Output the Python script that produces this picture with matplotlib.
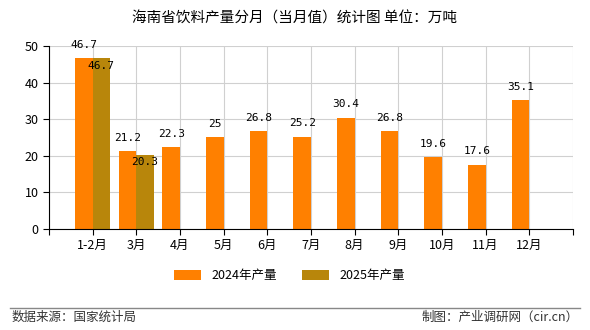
import matplotlib
matplotlib.use('Agg')
from matplotlib import pyplot as plt
import numpy as np

plt.rcParams['font.family'] = ['Noto Sans CJK SC', 'DejaVu Sans']

# 月份与产量（万吨）
months = ['1-2月', '3月', '4月', '5月', '6月', '7月', '8月', '9月', '10月', '11月', '12月']
output_2024 = [46.7, 21.2, 22.3, 25, 26.8, 25.2, 30.4, 26.8, 19.6, 17.6, 35.1]
output_2025 = [46.7, 20.3]

fig = plt.figure(figsize=(5.9, 3.3), dpi=100)
ax = fig.add_axes([0.083, 0.306, 0.888, 0.555])

x = np.arange(1, len(months) + 1)
w = 0.4
b1 = ax.bar(x - w / 2, output_2024, width=w, color='#FF8000', label='2024年产量', zorder=2)
x2 = x[:len(output_2025)]
b2 = ax.bar(x2 + w / 2, output_2025, width=w, color='#B8860B', label='2025年产量', zorder=2)

# 数值标签
for xi, v in zip(x, output_2024):
    ax.annotate('%g' % v, (xi - w / 2, v), xytext=(0, 6), textcoords='offset points',
                ha='center', va='bottom', fontsize=8, family='DejaVu Sans Mono')
for xi, v in zip(x2, output_2025):
    ax.annotate('%g' % v, (xi + w / 2, v), xytext=(0, -2), textcoords='offset points',
                ha='center', va='top', fontsize=8, family='DejaVu Sans Mono')

ax.set_xlim(0, 12)
ax.set_ylim(0, 50)
ax.set_xticks(np.arange(0, 13))
ax.set_xticklabels([''] + months + [''], fontsize=9)
ax.set_yticks(range(0, 51, 10))
ax.tick_params(axis='y', labelsize=9, length=4)
ax.tick_params(axis='x', length=4)
ax.grid(color='#d0d0d0', linewidth=0.8, zorder=0)
for s in ['top', 'right']:
    ax.spines[s].set_visible(False)
for s in ['left', 'bottom']:
    ax.spines[s].set_linewidth(0.8)

fig.suptitle('海南省饮料产量分月（当月值）统计图 单位：万吨', y=0.965, fontsize=10.5)
fig.legend(handles=[b1, b2], loc='center', bbox_to_anchor=(0.49, 0.165), ncol=2,
           frameon=False, fontsize=9, handlelength=2.2, handleheight=0.9, columnspacing=2)

fig.add_artist(plt.Line2D([0.017, 0.983], [0.067, 0.067], color='#888888', linewidth=1))
fig.text(0.02, 0.038, '数据来源：国家统计局', fontsize=9, color='#333333', va='center')
fig.text(0.98, 0.038, '制图：产业调研网（cir.cn）', fontsize=9, color='#333333', va='center', ha='right')

fig.savefig('out.png', dpi=100)
